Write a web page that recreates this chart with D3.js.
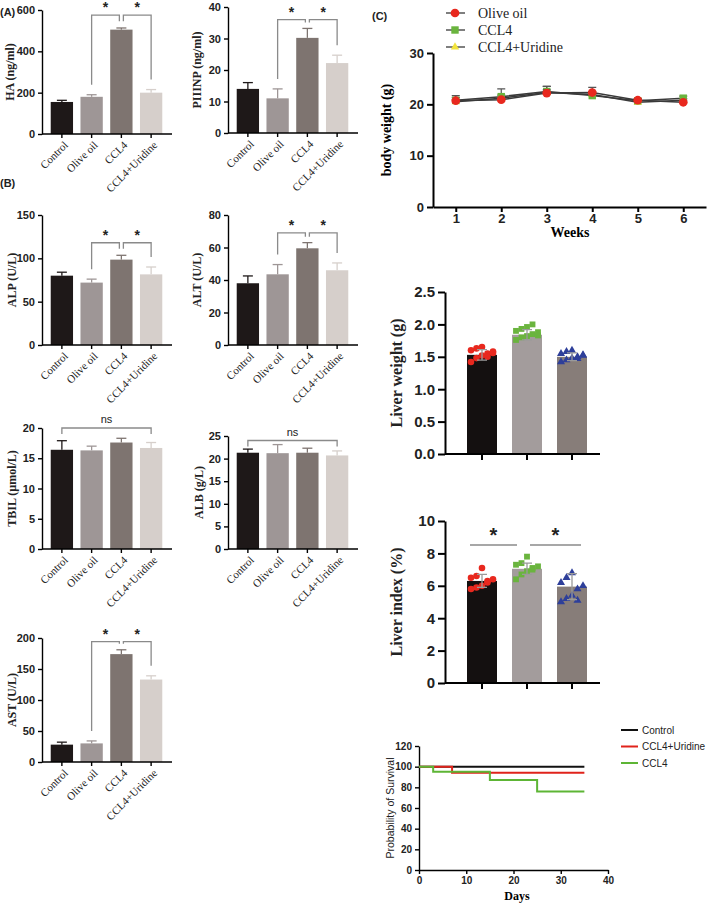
<!DOCTYPE html>
<html>
<head>
<meta charset="utf-8">
<script src="https://cdn.jsdelivr.net/npm/d3@7"></script>
<style>
  body { margin: 0; background: #fff; }
  svg { display: block; }
</style>
</head>
<body>
<div id="chart"></div>
<script>
// ---- data ----
const groups = ["Control", "Olive oil", "CCL4", "CCL4+Uridine"];
const haMean = [155, 180, 505, 200];
const haErr = [8, 10, 8, 15];
const piiinpMean = [14, 11, 30.2, 22.2];
const piiinpErr = [2, 3, 3, 2.5];
const alpMean = [80, 72, 98.5, 81.5];
const alpErr = [4, 4, 5, 8.5];
const altMean = [38, 43.5, 59.5, 46];
const altErr = [4.5, 6, 3.5, 4.5];
const tbilMean = [16.4, 16.3, 17.6, 16.7];
const tbilErr = [1.5, 0.7, 0.7, 0.9];
const albMean = [21.3, 21.2, 21.3, 20.7];
const albErr = [0.8, 1.9, 1.0, 1.0];
const astMean = [28, 30, 174, 133];
const astErr = [4, 4, 7, 6];

const weeks = [1, 2, 3, 4, 5, 6];
const bwOlive = [20.7, 20.9, 22.2, 22.3, 20.8, 20.4];
const bwOliveErr = [1.0, 0.3, 0.6, 1.0, 0.3, 0.3];
const bwCcl4 = [20.8, 21.5, 22.5, 21.7, 20.7, 21.2];
const bwCcl4Err = [0.5, 1.5, 1.0, 0.4, 0.3, 0.4];
const bwUri = [20.5, 21.2, 22.3, 21.9, 20.4, 20.8];
const bwUriErr = [0.4, 0.6, 1.2, 0.6, 0.3, 0.3];

const liverGroups = ["Control", "CCL4", "CCL4+Uridine"];
const lwMean = [1.53, 1.84, 1.50];
const lwSd = [0.08, 0.08, 0.06];
const lwCtrl = [1.42, 1.48, 1.52, 1.55, 1.58, 1.60, 1.63, 1.65, 1.50, 1.56];
const lwCcl4 = [1.76, 1.80, 1.82, 1.85, 1.88, 1.90, 1.93, 1.96, 2.00, 1.83];
const lwUri = [1.42, 1.45, 1.48, 1.50, 1.52, 1.55, 1.58, 1.60, 1.47, 1.53];
const liMean = [6.3, 7.05, 5.95];
const liSd = [0.4, 0.35, 0.8];
const liCtrl = [5.8, 5.9, 6.0, 6.2, 6.4, 6.5, 6.6, 7.1, 6.3];
const liCcl4 = [6.4, 6.7, 6.9, 7.1, 7.2, 7.3, 7.4, 7.8, 7.0];
const liUri = [5.0, 5.2, 5.4, 5.8, 6.0, 6.2, 6.5, 6.8, 5.1];

const ctrlDays = [0, 35], ctrlPct = [100, 100];
const uriDays = [0, 7, 35], uriPct = [100, 94, 94];
const ccl4Days = [0, 3, 15, 25, 35], ccl4Pct = [100, 95, 87, 76, 76];

// ---- styling ----
const SANS = "'Liberation Sans', Arial, sans-serif";
const SERIF = "'Liberation Serif', 'Times New Roman', serif";
const barColors = ["#1e1818", "#9e9696", "#7e7470", "#d6cfcb"];

const svg = d3.select("#chart").append("svg")
    .attr("width", 709).attr("height", 905)
    .style("background", "#fff");

// bar chart with error bars, used for panels A and B
function barPanel(p) {
    const g = svg.append("g");
    const x = d3.scaleBand().domain(groups)
        .range([p.ax + 5, p.ax + 124]).paddingInner(0.25).paddingOuter(0.125);
    const y = d3.scaleLinear().domain([0, p.max]).range([p.bottom, p.top]);

    g.selectAll(".err").data(p.mean).join("g").each(function (d, i) {
        const cx = x(groups[i]) + x.bandwidth() / 2;
        const e = d3.select(this);
        e.append("line").attr("x1", cx).attr("x2", cx)
            .attr("y1", y(d)).attr("y2", y(d + p.err[i]))
            .attr("stroke", barColors[i]).attr("stroke-width", 1.3);
        e.append("line").attr("x1", cx - 5).attr("x2", cx + 5)
            .attr("y1", y(d + p.err[i])).attr("y2", y(d + p.err[i]))
            .attr("stroke", barColors[i]).attr("stroke-width", 1.3);
    });
    g.selectAll("rect").data(p.mean).join("rect")
        .attr("x", (d, i) => x(groups[i]))
        .attr("y", d => y(d))
        .attr("width", x.bandwidth())
        .attr("height", d => y(0) - y(d))
        .attr("fill", (d, i) => barColors[i]);

    // y axis
    const ya = g.append("g").attr("transform", `translate(${p.ax},0)`)
        .call(d3.axisLeft(y).tickValues(p.ticks).tickSize(4).tickSizeOuter(0));
    ya.select(".domain").attr("stroke-width", 1.4);
    ya.selectAll("line").attr("stroke-width", 1.4);
    ya.selectAll("text").attr("font-family", SANS).attr("font-weight", "bold")
        .attr("font-size", 11).attr("fill", "#222");

    // x axis
    g.append("line").attr("x1", p.ax).attr("x2", p.ax + 130)
        .attr("y1", p.bottom).attr("y2", p.bottom)
        .attr("stroke", "#000").attr("stroke-width", 1.4);
    groups.forEach(c => {
        const cx = x(c) + x.bandwidth() / 2;
        g.append("line").attr("x1", cx).attr("x2", cx)
            .attr("y1", p.bottom).attr("y2", p.bottom + 4)
            .attr("stroke", "#000").attr("stroke-width", 1.4);
        g.append("text")
            .attr("transform", `translate(${cx + 4},${p.bottom + 9}) rotate(-45)`)
            .attr("text-anchor", "end").attr("dy", "0.35em")
            .attr("font-family", SERIF).attr("font-size", 11).attr("fill", "#222")
            .text(c);
    });

    g.append("text")
        .attr("transform", `translate(${p.labelX},${(p.top + p.bottom) / 2}) rotate(-90)`)
        .attr("text-anchor", "middle").attr("dy", "0.35em")
        .attr("font-family", SERIF).attr("font-weight", "bold")
        .attr("font-size", 12).attr("fill", "#222")
        .text(p.label);

    const cxOf = i => x(groups[i]) + x.bandwidth() / 2;
    const topOf = i => y(p.mean[i] + p.err[i]);
    const br = "#8a8a8a";
    if (p.sig === "star") {
        const yb = y(p.bracket);
        // olive oil -> CCL4, CCL4 -> CCL4+Uridine
        const pairs = [[1, 2, -2], [2, 3, 2]];
        pairs.forEach(([a, b, off]) => {
            const xa = a === 2 ? cxOf(a) + off : cxOf(a);
            const xb = b === 2 ? cxOf(b) + off : cxOf(b);
            const ya1 = a === 2 ? Math.min(topOf(a) - 6, yb + 6) : topOf(a) - 10;
            const yb1 = b === 2 ? Math.min(topOf(b) - 6, yb + 6) : topOf(b) - 10;
            g.append("path")
                .attr("d", `M${xa},${ya1}V${yb}H${xb}V${yb1}`)
                .attr("fill", "none").attr("stroke", br).attr("stroke-width", 1.3);
            g.append("text").attr("x", (xa + xb) / 2).attr("y", yb - 3)
                .attr("text-anchor", "middle").attr("font-family", SANS)
                .attr("font-weight", "bold").attr("font-size", 14).attr("fill", "#222")
                .text("*");
        });
    } else {
        const yb = y(p.bracket);
        g.append("path")
            .attr("d", `M${cxOf(0)},${yb + 6}V${yb}H${cxOf(3)}V${yb + 6}`)
            .attr("fill", "none").attr("stroke", br).attr("stroke-width", 1.3);
        g.append("text").attr("x", (cxOf(0) + cxOf(3)) / 2).attr("y", yb - 5)
            .attr("text-anchor", "middle").attr("font-family", SANS)
            .attr("font-size", 11).attr("fill", "#222").text("ns");
    }
}

barPanel({ ax: 42, top: 10, bottom: 134, max: 600, ticks: [0, 200, 400, 600],
    mean: haMean, err: haErr, label: "HA (ng/ml)", labelX: 10, sig: "star", bracket: 575 });
barPanel({ ax: 228, top: 7, bottom: 133, max: 40, ticks: [0, 10, 20, 30, 40],
    mean: piiinpMean, err: piiinpErr, label: "PIIINP (ng/ml)", labelX: 197, sig: "star", bracket: 36 });
barPanel({ ax: 42, top: 215, bottom: 345, max: 150, ticks: [0, 50, 100, 150],
    mean: alpMean, err: alpErr, label: "ALP (U/L)", labelX: 12, sig: "star", bracket: 118 });
barPanel({ ax: 228, top: 215, bottom: 345, max: 80, ticks: [0, 20, 40, 60, 80],
    mean: altMean, err: altErr, label: "ALT (U/L)", labelX: 197, sig: "star", bracket: 69 });
barPanel({ ax: 42, top: 428, bottom: 549, max: 20, ticks: [0, 5, 10, 15, 20],
    mean: tbilMean, err: tbilErr, label: "TBIL (µmol/L)", labelX: 12, sig: "ns", bracket: 20 });
barPanel({ ax: 228, top: 436, bottom: 549, max: 25, ticks: [0, 5, 10, 15, 20, 25],
    mean: albMean, err: albErr, label: "ALB (g/L)", labelX: 199, sig: "ns", bracket: 24 });
barPanel({ ax: 42, top: 638, bottom: 762, max: 200, ticks: [0, 50, 100, 150, 200],
    mean: astMean, err: astErr, label: "AST (U/L)", labelX: 12, sig: "star", bracket: 194 });

// panel letters
[["(A)", 0, 16], ["(B)", 0, 187], ["(C)", 372, 20]].forEach(([t, px, py]) => {
    svg.append("text").attr("x", px).attr("y", py)
        .attr("font-family", SANS).attr("font-weight", "bold").attr("font-size", 11)
        .attr("fill", "#222").text(t);
});

// ---- body weight ----
{
    const x = d3.scaleLinear().domain([0.5, 6.5]).range([433, 706]);
    const y = d3.scaleLinear().domain([0, 30]).range([207, 53]);
    const g = svg.append("g");
    const ya = g.append("g").attr("transform", "translate(433,0)")
        .call(d3.axisLeft(y).tickValues([0, 10, 20, 30]).tickSize(6).tickSizeOuter(0));
    const xa = g.append("g").attr("transform", "translate(0,207)")
        .call(d3.axisBottom(x).tickValues(weeks).tickFormat(d3.format("d"))
            .tickSize(5).tickPadding(2).tickSizeOuter(0));
    [ya, xa].forEach(a => {
        a.selectAll("path,line").attr("stroke-width", 2);
        a.selectAll("text").attr("font-family", SANS).attr("font-weight", "bold")
            .attr("font-size", 13).attr("fill", "#222");
    });
    g.append("text").attr("x", 570).attr("y", 237).attr("text-anchor", "middle")
        .attr("font-family", SERIF).attr("font-weight", "bold").attr("font-size", 14)
        .text("Weeks");
    g.append("text").attr("transform", "translate(386,130) rotate(-90)")
        .attr("text-anchor", "middle").attr("dy", "0.35em")
        .attr("font-family", SERIF).attr("font-weight", "bold").attr("font-size", 14)
        .text("body weight (g)");

    const series = [
        { name: "Olive oil", v: bwOlive, e: bwOliveErr, color: "#e8281e", sym: d3.symbolCircle, size: 60 },
        { name: "CCL4", v: bwCcl4, e: bwCcl4Err, color: "#6ab43e", sym: d3.symbolSquare, size: 55 },
        { name: "CCL4+Uridine", v: bwUri, e: bwUriErr, color: "#f2e33c", sym: d3.symbolTriangle, size: 30 }
    ];
    const line = d3.line().x((d, i) => x(weeks[i])).y(d => y(d));
    series.slice().reverse().forEach(s => {
        s.v.forEach((d, i) => {
            const cx = x(weeks[i]);
            g.append("path").attr("d", `M${cx},${y(d)}V${y(d + s.e[i])}M${cx - 4},${y(d + s.e[i])}H${cx + 4}`)
                .attr("stroke", "#555").attr("stroke-width", 1.2).attr("fill", "none");
        });
        g.append("path").attr("d", line(s.v)).attr("fill", "none")
            .attr("stroke", "#3a3a3a").attr("stroke-width", 1.5);
        g.selectAll(null).data(s.v).join("path")
            .attr("transform", (d, i) => `translate(${x(weeks[i])},${y(d)})`)
            .attr("d", d3.symbol(s.sym, s.size)).attr("fill", s.color);
    });
    // legend
    series.forEach((s, i) => {
        const ly = 13 + i * 17;
        g.append("line").attr("x1", 446).attr("x2", 465).attr("y1", ly).attr("y2", ly)
            .attr("stroke", "#555").attr("stroke-width", 1.5);
        g.append("path").attr("transform", `translate(455,${ly})`)
            .attr("d", d3.symbol(s.sym, s.size)).attr("fill", s.color);
        g.append("text").attr("x", 478).attr("y", ly).attr("dy", "0.35em")
            .attr("font-family", SERIF).attr("font-size", 14).attr("fill", "#222").text(s.name);
    });
}

// ---- liver weight / liver index ----
const liverColors = ["#141010", "#a39c9c", "#877d79"];
const dotStyles = [
    { color: "#e8281e", sym: d3.symbolCircle, size: 34 },
    { color: "#6ab43e", sym: d3.symbolSquare, size: 34 },
    { color: "#2e3f9a", sym: d3.symbolTriangle, size: 28 }
];
function liverPanel(p) {
    const g = svg.append("g");
    const x = d3.scalePoint().domain(liverGroups).range([482, 572]);
    const y = d3.scaleLinear().domain([0, p.max]).range([p.bottom, p.top]);
    const bw = 30;
    g.selectAll("rect").data(p.mean).join("rect")
        .attr("x", (d, i) => x(liverGroups[i]) - bw / 2).attr("y", d => y(d))
        .attr("width", bw).attr("height", d => y(0) - y(d))
        .attr("fill", (d, i) => liverColors[i]);
    p.points.forEach((pts, gi) => {
        const st = dotStyles[gi];
        const cx = x(liverGroups[gi]);
        g.selectAll(null).data(pts).join("path")
            .attr("transform", (d, i) => `translate(${cx + ((i % 5) - 2) * 5.5},${y(d)})`)
            .attr("d", d3.symbol(st.sym, st.size)).attr("fill", st.color);
        const m = p.mean[gi], s = p.sd[gi];
        g.append("path")
            .attr("d", `M${cx},${y(m - s)}V${y(m + s)}M${cx - 5},${y(m + s)}H${cx + 5}M${cx - 5},${y(m - s)}H${cx + 5}`)
            .attr("stroke", "#9a9a9a").attr("stroke-width", 1.3).attr("fill", "none");
    });
    const ya = g.append("g").attr("transform", "translate(445,0)")
        .call(d3.axisLeft(y).tickValues(p.ticks).tickFormat(p.fmt).tickSize(7).tickSizeOuter(0));
    ya.selectAll("path,line").attr("stroke-width", 2);
    ya.selectAll("text").attr("font-family", SANS).attr("font-weight", "bold")
        .attr("font-size", 15).attr("fill", "#222");
    g.append("line").attr("x1", 445).attr("x2", 600).attr("y1", p.bottom).attr("y2", p.bottom)
        .attr("stroke", "#000").attr("stroke-width", 2);
    liverGroups.forEach(c => {
        g.append("line").attr("x1", x(c)).attr("x2", x(c))
            .attr("y1", p.bottom).attr("y2", p.bottom + 6)
            .attr("stroke", "#000").attr("stroke-width", 2);
    });
    g.append("text").attr("transform", `translate(396,${(p.top + p.bottom) / 2}) rotate(-90)`)
        .attr("text-anchor", "middle").attr("dy", "0.35em")
        .attr("font-family", SERIF).attr("font-weight", "bold").attr("font-size", 16)
        .attr("fill", "#222").text(p.label);
    return { g, x, y };
}
liverPanel({ top: 292, bottom: 454, max: 2.5, ticks: [0, 0.5, 1, 1.5, 2, 2.5],
    fmt: d3.format(".1f"), mean: lwMean, sd: lwSd,
    points: [lwCtrl, lwCcl4, lwUri], label: "Liver weight (g)" });
const li = liverPanel({ top: 521, bottom: 683, max: 10, ticks: [0, 2, 4, 6, 8, 10],
    fmt: d3.format("d"), mean: liMean, sd: liSd,
    points: [liCtrl, liCcl4, liUri], label: "Liver index (%)" });
[[470, 517], [530, 581]].forEach(([a, b]) => {
    li.g.append("line").attr("x1", a).attr("x2", b).attr("y1", 545).attr("y2", 545)
        .attr("stroke", "#8a8a8a").attr("stroke-width", 1.5);
    li.g.append("text").attr("x", (a + b) / 2).attr("y", 542).attr("text-anchor", "middle")
        .attr("font-family", SANS).attr("font-weight", "bold").attr("font-size", 20)
        .attr("fill", "#222").text("*");
});

// ---- survival ----
{
    const x = d3.scaleLinear().domain([0, 40]).range([419, 608]);
    const y = d3.scaleLinear().domain([0, 120]).range([870, 746]);
    const g = svg.append("g");
    const ya = g.append("g").attr("transform", "translate(419,0)")
        .call(d3.axisLeft(y).tickValues([0, 20, 40, 60, 80, 100, 120]).tickSize(4).tickSizeOuter(0));
    const xa = g.append("g").attr("transform", "translate(0,870)")
        .call(d3.axisBottom(x).tickValues([0, 10, 20, 30, 40]).tickSize(4).tickSizeOuter(0));
    [ya, xa].forEach(a => {
        a.selectAll("path,line").attr("stroke-width", 1.4);
        a.selectAll("text").attr("font-family", SANS).attr("font-weight", "bold")
            .attr("font-size", 10).attr("fill", "#222");
    });
    g.append("text").attr("x", 517).attr("y", 900).attr("text-anchor", "middle")
        .attr("font-family", SERIF).attr("font-weight", "bold").attr("font-size", 12)
        .text("Days");
    g.append("text").attr("transform", "translate(390,808) rotate(-90)")
        .attr("text-anchor", "middle").attr("dy", "0.35em")
        .attr("font-family", SANS).attr("font-size", 10.5).attr("fill", "#222")
        .text("Probability of Survival");
    const step = d3.line().x(d => x(d[0])).y(d => y(d[1])).curve(d3.curveStepAfter);
    const curves = [
        { name: "Control", days: ctrlDays, pct: ctrlPct, color: "#111" },
        { name: "CCL4+Uridine", days: uriDays, pct: uriPct, color: "#e0231b" },
        { name: "CCL4", days: ccl4Days, pct: ccl4Pct, color: "#5db535" }
    ];
    curves.forEach(c => {
        g.append("path").attr("d", step(c.days.map((d, i) => [d, c.pct[i]])))
            .attr("fill", "none").attr("stroke", c.color).attr("stroke-width", 2);
    });
    curves.forEach((c, i) => {
        const ly = 730 + i * 16.5;
        g.append("line").attr("x1", 621).attr("x2", 638).attr("y1", ly).attr("y2", ly)
            .attr("stroke", c.color).attr("stroke-width", 2);
        g.append("text").attr("x", 642).attr("y", ly).attr("dy", "0.35em")
            .attr("font-family", SANS).attr("font-size", 10).attr("fill", "#222").text(c.name);
    });
}
</script>
</body>
</html>
